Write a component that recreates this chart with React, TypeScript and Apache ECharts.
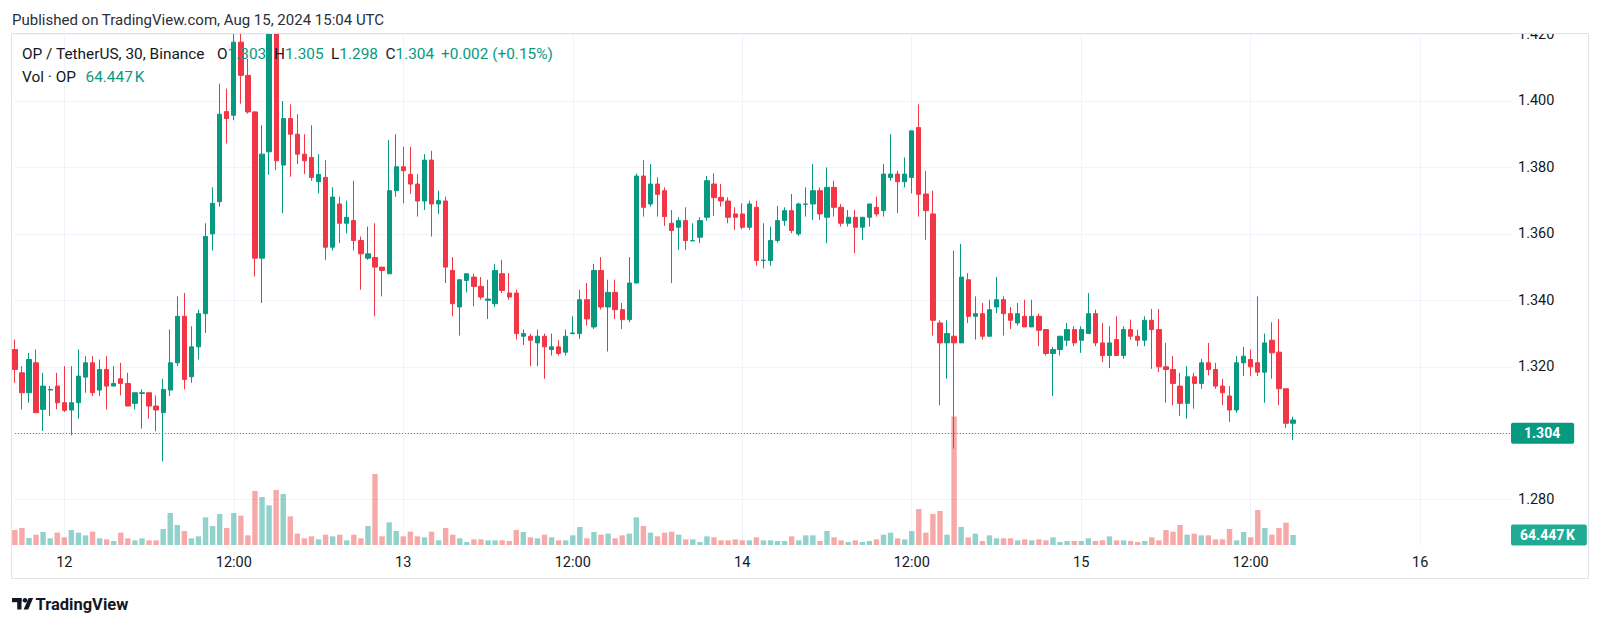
import React, { useEffect, useRef } from "react";
import * as echarts from "echarts";

// ---------- DATA (OP/USDT, 30m, Binance) ----------
const START_UTC = Date.UTC(2024, 7, 11, 20, 30); // first candle: Aug 11 20:30
const SLOT_MINUTES = 30;
const N_SLOTS = 213; // candles + empty space to the right

const OPEN = [
  1.3252, 1.3182, 1.3122, 1.3212, 1.3072, 1.3130, 1.3142, 1.3092, 1.3070, 1.3092,
  1.3169, 1.3212, 1.3130, 1.3192, 1.3142, 1.3164, 1.3150, 1.3090, 1.3120, 1.3122,
  1.3082, 1.3062, 1.3130, 1.3212, 1.3352, 1.3170, 1.3260, 1.3360, 1.3600, 1.3697,
  1.3968, 1.3957, 1.4177, 1.4077, 1.3967, 1.3527, 1.3847, 1.4240, 1.3807, 1.3947,
  1.3900, 1.3840, 1.3830, 1.3757, 1.3770, 1.3560, 1.3690, 1.3632, 1.3640, 1.3580,
  1.3527, 1.3529, 1.3500, 1.3480, 1.3730, 1.3802, 1.3779, 1.3750, 1.3699, 1.3822,
  1.3690, 1.3699, 1.3490, 1.3380, 1.3460, 1.3470, 1.3442, 1.3400, 1.3390, 1.3480,
  1.3422, 1.3422, 1.3292, 1.3292, 1.3272, 1.3292, 1.3252, 1.3260, 1.3244, 1.3300,
  1.3300, 1.3402, 1.3320, 1.3490, 1.3380, 1.3424, 1.3372, 1.3342, 1.3452, 1.3774,
  1.3690, 1.3750, 1.3730, 1.3632, 1.3620, 1.3640, 1.3579, 1.3590, 1.3650, 1.3750,
  1.3710, 1.3699, 1.3660, 1.3660, 1.3620, 1.3680, 1.3520, 1.3520, 1.3580, 1.3640,
  1.3670, 1.3600, 1.3689, 1.3690, 1.3730, 1.3650, 1.3740, 1.3680, 1.3632, 1.3650,
  1.3620, 1.3650, 1.3680, 1.3670, 1.3770, 1.3780, 1.3757, 1.3770, 1.3920, 1.3720,
  1.3660, 1.3332, 1.3272, 1.3292, 1.3272, 1.3462, 1.3352, 1.3360, 1.3292, 1.3380,
  1.3402, 1.3360, 1.3332, 1.3352, 1.3320, 1.3352, 1.3312, 1.3240, 1.3252, 1.3280,
  1.3312, 1.3280, 1.3300, 1.3360, 1.3272, 1.3234, 1.3282, 1.3234, 1.3312, 1.3292,
  1.3280, 1.3340, 1.3312, 1.3200, 1.3192, 1.3142, 1.3090, 1.3170, 1.3150, 1.3212,
  1.3192, 1.3142, 1.3112, 1.3070, 1.3212, 1.3222, 1.3212, 1.3184, 1.3280, 1.3244,
  1.3134, 1.3030,
];

const HIGH = [
  1.3282, 1.3202, 1.3242, 1.3252, 1.3182, 1.3142, 1.3182, 1.3202, 1.3202, 1.3252,
  1.3232, 1.3232, 1.3222, 1.3232, 1.3202, 1.3212, 1.3182, 1.3122, 1.3132, 1.3122,
  1.3114, 1.3164, 1.3312, 1.3412, 1.3422, 1.3322, 1.3372, 1.3632, 1.3740, 1.4052,
  1.4037, 1.4240, 1.4240, 1.4127, 1.3969, 1.3927, 1.4280, 1.4300, 1.4000, 1.3990,
  1.3960, 1.3900, 1.3927, 1.3840, 1.3822, 1.3740, 1.3712, 1.3700, 1.3760, 1.3592,
  1.3622, 1.3632, 1.3500, 1.3882, 1.3900, 1.3862, 1.3862, 1.3780, 1.3840, 1.3850,
  1.3730, 1.3712, 1.3530, 1.3462, 1.3480, 1.3480, 1.3470, 1.3462, 1.3510, 1.3522,
  1.3482, 1.3432, 1.3312, 1.3300, 1.3312, 1.3300, 1.3300, 1.3280, 1.3312, 1.3352,
  1.3432, 1.3452, 1.3510, 1.3530, 1.3462, 1.3462, 1.3392, 1.3530, 1.3782, 1.3822,
  1.3810, 1.3770, 1.3740, 1.3672, 1.3650, 1.3680, 1.3632, 1.3650, 1.3774, 1.3782,
  1.3750, 1.3710, 1.3680, 1.3692, 1.3700, 1.3700, 1.3632, 1.3622, 1.3684, 1.3680,
  1.3720, 1.3694, 1.3740, 1.3810, 1.3740, 1.3800, 1.3760, 1.3690, 1.3672, 1.3672,
  1.3650, 1.3690, 1.3712, 1.3810, 1.3900, 1.3790, 1.3830, 1.3910, 1.3990, 1.3790,
  1.3730, 1.3340, 1.3340, 1.3550, 1.3570, 1.3482, 1.3412, 1.3392, 1.3402, 1.3470,
  1.3412, 1.3380, 1.3392, 1.3402, 1.3402, 1.3360, 1.3312, 1.3260, 1.3292, 1.3332,
  1.3322, 1.3322, 1.3422, 1.3372, 1.3332, 1.3322, 1.3352, 1.3322, 1.3342, 1.3312,
  1.3352, 1.3374, 1.3374, 1.3272, 1.3232, 1.3182, 1.3202, 1.3182, 1.3224, 1.3272,
  1.3212, 1.3164, 1.3142, 1.3232, 1.3260, 1.3252, 1.3412, 1.3300, 1.3334, 1.3344,
  1.3134, 1.3050,
];

const LOW = [
  1.3152, 1.3072, 1.3092, 1.3062, 1.3007, 1.3052, 1.3072, 1.3064, 1.2994, 1.3044,
  1.3122, 1.3112, 1.3112, 1.3072, 1.3142, 1.3114, 1.3082, 1.3072, 1.3014, 1.3044,
  1.3006, 1.2915, 1.3112, 1.3202, 1.3132, 1.3152, 1.3222, 1.3302, 1.3550, 1.3682,
  1.3872, 1.3942, 1.3992, 1.3962, 1.3472, 1.3392, 1.3778, 1.3792, 1.3662, 1.3772,
  1.3810, 1.3780, 1.3760, 1.3722, 1.3522, 1.3550, 1.3572, 1.3602, 1.3550, 1.3432,
  1.3522, 1.3352, 1.3412, 1.3480, 1.3712, 1.3692, 1.3720, 1.3652, 1.3672, 1.3592,
  1.3660, 1.3452, 1.3352, 1.3294, 1.3424, 1.3382, 1.3402, 1.3344, 1.3380, 1.3422,
  1.3402, 1.3282, 1.3266, 1.3202, 1.3202, 1.3164, 1.3234, 1.3234, 1.3234, 1.3298,
  1.3284, 1.3324, 1.3314, 1.3372, 1.3246, 1.3344, 1.3314, 1.3334, 1.3452, 1.3652,
  1.3682, 1.3652, 1.3624, 1.3452, 1.3552, 1.3552, 1.3578, 1.3572, 1.3640, 1.3654,
  1.3682, 1.3632, 1.3612, 1.3614, 1.3612, 1.3504, 1.3496, 1.3504, 1.3574, 1.3624,
  1.3602, 1.3594, 1.3652, 1.3642, 1.3642, 1.3572, 1.3652, 1.3622, 1.3622, 1.3542,
  1.3582, 1.3622, 1.3652, 1.3652, 1.3760, 1.3662, 1.3740, 1.3722, 1.3652, 1.3582,
  1.3294, 1.3084, 1.3164, 1.2954, 1.3272, 1.3332, 1.3282, 1.3282, 1.3292, 1.3362,
  1.3294, 1.3314, 1.3324, 1.3320, 1.3320, 1.3262, 1.3234, 1.3112, 1.3234, 1.3262,
  1.3262, 1.3242, 1.3300, 1.3262, 1.3214, 1.3196, 1.3234, 1.3224, 1.3282, 1.3262,
  1.3262, 1.3194, 1.3184, 1.3092, 1.3084, 1.3052, 1.3044, 1.3074, 1.3134, 1.3174,
  1.3134, 1.3084, 1.3034, 1.3062, 1.3172, 1.3172, 1.3172, 1.3092, 1.3164, 1.3084,
  1.3016, 1.2980,
];

const CLOSE = [
  1.3192, 1.3122, 1.3222, 1.3062, 1.3142, 1.3132, 1.3092, 1.3069, 1.3092, 1.3172,
  1.3212, 1.3122, 1.3192, 1.3142, 1.3150, 1.3150, 1.3082, 1.3122, 1.3122, 1.3082,
  1.3070, 1.3132, 1.3212, 1.3352, 1.3162, 1.3260, 1.3360, 1.3592, 1.3692, 1.3960,
  1.3947, 1.4177, 1.4077, 1.3967, 1.3527, 1.3840, 1.4240, 1.3820, 1.3947, 1.3900,
  1.3840, 1.3820, 1.3770, 1.3779, 1.3560, 1.3711, 1.3632, 1.3650, 1.3580, 1.3540,
  1.3540, 1.3500, 1.3490, 1.3730, 1.3802, 1.3790, 1.3750, 1.3699, 1.3822, 1.3690,
  1.3700, 1.3500, 1.3390, 1.3462, 1.3480, 1.3442, 1.3410, 1.3404, 1.3490, 1.3430,
  1.3410, 1.3300, 1.3300, 1.3280, 1.3292, 1.3260, 1.3260, 1.3240, 1.3292, 1.3302,
  1.3402, 1.3344, 1.3490, 1.3380, 1.3424, 1.3372, 1.3342, 1.3452, 1.3774, 1.3680,
  1.3750, 1.3719, 1.3652, 1.3610, 1.3640, 1.3580, 1.3580, 1.3640, 1.3760, 1.3709,
  1.3699, 1.3650, 1.3650, 1.3620, 1.3690, 1.3520, 1.3521, 1.3580, 1.3640, 1.3670,
  1.3610, 1.3690, 1.3690, 1.3730, 1.3660, 1.3740, 1.3680, 1.3632, 1.3650, 1.3620,
  1.3650, 1.3690, 1.3660, 1.3780, 1.3780, 1.3757, 1.3780, 1.3910, 1.3719, 1.3670,
  1.3340, 1.3272, 1.3300, 1.3272, 1.3470, 1.3352, 1.3360, 1.3292, 1.3372, 1.3402,
  1.3360, 1.3340, 1.3360, 1.3320, 1.3352, 1.3310, 1.3240, 1.3252, 1.3292, 1.3312,
  1.3272, 1.3312, 1.3360, 1.3272, 1.3234, 1.3272, 1.3234, 1.3312, 1.3292, 1.3280,
  1.3340, 1.3312, 1.3200, 1.3192, 1.3150, 1.3090, 1.3170, 1.3150, 1.3212, 1.3192,
  1.3142, 1.3122, 1.3070, 1.3212, 1.3232, 1.3200, 1.3184, 1.3272, 1.3242, 1.3134,
  1.3030, 1.3040,
];

// volume, thousands of OP
const VOLUME_K = [
  96.6, 109.5, 45.1, 66.5, 83.7, 42.9, 79.4, 49.4, 96.6, 79.4,
  62.3, 85.9, 42.9, 36.5, 25.8, 79.4, 42.9, 30.1, 42.9, 30.1,
  30.1, 103, 206, 128.8, 90.2, 42.9, 55.8, 178.2, 122.4, 199.6,
  109.5, 206, 188.9, 62.3, 347.8, 309.1, 255.5, 354.2, 328.4, 184.6,
  73, 42.9, 55.8, 36.5, 66.5, 55.8, 66.5, 30.1, 66.5, 42.9,
  122.4, 457.2, 55.8, 146, 90.2, 55.8, 85.9, 55.8, 49.4, 85.9,
  30.1, 109.5, 66.5, 42.9, 19.3, 36.5, 36.5, 30.1, 30.1, 30.1,
  25.8, 96.6, 83.7, 49.4, 42.9, 66.5, 49.4, 30.1, 30.1, 62.3,
  115.9, 42.9, 83.7, 66.5, 73, 42.9, 62.3, 73, 178.2, 122.4,
  79.4, 55.8, 79.4, 85.9, 66.5, 36.5, 36.5, 19.3, 55.8, 49.4,
  30.1, 30.1, 36.5, 30.1, 30.1, 49.4, 30.1, 30.1, 25.8, 25.8,
  55.8, 30.1, 62.3, 62.3, 25.8, 90.2, 49.4, 30.1, 19.3, 30.1,
  19.3, 25.8, 36.5, 66.5, 79.4, 42.9, 36.5, 90.2, 231.8, 79.4,
  199.6, 219, 66.5, 827.5, 115.9, 49.4, 73, 25.8, 62.3, 42.9,
  42.9, 42.9, 30.1, 36.5, 30.1, 36.5, 30.1, 49.4, 19.3, 25.8,
  25.8, 25.8, 42.9, 25.8, 30.1, 55.8, 30.1, 30.1, 25.8, 19.3,
  25.8, 49.4, 30.1, 96.6, 85.9, 128.8, 66.5, 73, 62.3, 62.3,
  36.5, 36.5, 103, 30.1, 83.7, 49.4, 225.4, 109.5, 66.5, 109.5,
  143.8, 64.447,
];

const PRICE_TICKS_MIN = 1.26;
const PRICE_TICKS_MAX = 1.42;
const PRICE_TICK_STEP = 0.02;

const TITLE = "OP / TetherUS, 30, Binance";
const PUBLISHED = "Published on TradingView.com, Aug 15, 2024 15:04 UTC";
const CHANGE_TEXT = "+0.002 (+0.15%)";
const VOL_TITLE = "Vol · OP";

// ---------- STYLE ----------
const UP = "#089981";
const DOWN = "#F23645";
const VOL_UP = "rgba(38,166,154,0.5)";
const VOL_DOWN = "rgba(239,83,80,0.5)";
const TEXT = "#131722";
const GRID = "#f0f3fa";
const FONT = "Roboto, 'Noto Sans', sans-serif";
const HEAD_FONT = `15.4px ${FONT}`;

function pad2(n: number) {
  return String(n).padStart(2, "0");
}

function buildCategories(): string[] {
  const out: string[] = [];
  for (let i = 0; i < N_SLOTS; i++) {
    const t = new Date(START_UTC + i * SLOT_MINUTES * 60000);
    out.push(`${t.getUTCDate()} ${pad2(t.getUTCHours())}:${pad2(t.getUTCMinutes())}`);
  }
  return out;
}

function isMajor(v: string) {
  return v.endsWith(" 00:00") || v.endsWith(" 12:00");
}

function timeLabel(v: string) {
  const [d, hm] = v.split(" ");
  if (hm === "00:00") return d;
  if (hm === "12:00") return "12:00";
  return "";
}

export default function App() {
  const ref = useRef<HTMLDivElement>(null);

  useEffect(() => {
    if (!ref.current) return;
    const chart = echarts.init(ref.current, null, { renderer: "svg" });
    const cats = buildCategories();
    const last = CLOSE.length - 1;
    const lastClose = CLOSE[last];
    const lastVol = VOLUME_K[VOLUME_K.length - 1];
    const volText = `${lastVol.toFixed(3)}\u202FK`;

    const candleData = OPEN.map((o, i) => [o, CLOSE[i], LOW[i], HIGH[i]]);
    const volData = VOLUME_K.map((v, i) => ({
      value: v,
      itemStyle: { color: CLOSE[i] >= OPEN[i] ? VOL_UP : VOL_DOWN },
    }));

    const nTicks = Math.round((PRICE_TICKS_MAX - PRICE_TICKS_MIN) / PRICE_TICK_STEP) + 1;
    const splitColors = ["rgba(0,0,0,0)"];
    for (let i = 1; i < nTicks + 2; i++) splitColors.push(GRID);

    const gridLeft = 14.87;
    const gridRight = 88;

    const option: any = {
      animation: false,
      backgroundColor: "#ffffff",
      textStyle: { fontFamily: FONT },
      grid: [
        { left: gridLeft, right: gridRight, top: 34.5, bottom: 58.8 },
        { left: gridLeft, right: gridRight, top: 33, bottom: 80 },
      ],
      xAxis: [
        {
          type: "category",
          gridIndex: 0,
          data: cats,
          boundaryGap: false,
          show: false,
        },
        {
          type: "category",
          gridIndex: 1,
          data: cats,
          boundaryGap: false,
          axisLine: { show: false },
          axisTick: { show: false },
          axisLabel: {
            interval: (_i: number, v: string) => isMajor(v),
            formatter: (v: string) => timeLabel(v),
            color: TEXT,
            fontSize: 14.5,
            fontFamily: FONT,
            margin: 10,
          },
          splitLine: {
            show: true,
            interval: (_i: number, v: string) => isMajor(v),
            lineStyle: { color: GRID, width: 1 },
          },
        },
      ],
      yAxis: [
        {
          type: "value",
          gridIndex: 0,
          position: "right",
          min: PRICE_TICKS_MIN,
          max: PRICE_TICKS_MAX,
          interval: PRICE_TICK_STEP,
          axisLine: { show: false },
          axisTick: { show: false },
          axisLabel: {
            color: TEXT,
            fontSize: 14.5,
            fontFamily: FONT,
            margin: 6,
            formatter: (v: number) => (v < PRICE_TICKS_MIN + 0.001 ? "" : v.toFixed(3)),
          },
          splitLine: { show: true, lineStyle: { color: splitColors, width: 1 } },
        },
        {
          type: "value",
          gridIndex: 1,
          min: 0,
          max: 3297,
          show: false,
          splitLine: { show: false },
        },
      ],
      series: [
        {
          type: "bar",
          name: "Vol",
          xAxisIndex: 1,
          yAxisIndex: 1,
          data: volData,
          barWidth: 5.4,
          z: 1,
          markLine: {
            silent: true,
            symbol: "none",
            animation: false,
            lineStyle: { color: "rgba(0,0,0,0)", width: 1, type: "solid" },
            label: {
              show: true,
              position: "end",
              distance: -1,
              formatter: () => volText,
              color: "#ffffff",
              backgroundColor: "#22ab94",
              fontSize: 14,
              fontWeight: "bold",
              fontFamily: FONT,
              padding: [4, 12, 3, 9],
              borderRadius: 2,
            },
            data: [{ yAxis: lastVol }],
          },
        },
        {
          type: "candlestick",
          name: "OP/USDT",
          xAxisIndex: 0,
          yAxisIndex: 0,
          data: candleData,
          barWidth: 4.8,
          clip: false,
          z: 3,
          itemStyle: {
            color: UP,
            color0: DOWN,
            borderColor: UP,
            borderColor0: DOWN,
            borderWidth: 1,
          },
          markLine: {
            silent: true,
            symbol: "none",
            animation: false,
            lineStyle: { color: UP, type: [1, 2], width: 1 },
            label: {
              show: true,
              position: "end",
              distance: -1,
              formatter: () => lastClose.toFixed(3),
              color: "#ffffff",
              backgroundColor: UP,
              fontSize: 14,
              fontWeight: "bold",
              fontFamily: FONT,
              padding: [4, 14, 3, 13],
              borderRadius: 2,
            },
            data: [{ yAxis: lastClose }],
          },
        },
      ],
      graphic: [
        {
          type: "rect",
          silent: true,
          z: 100,
          shape: { x: 0, y: 0, width: 1600, height: 33 },
          style: { fill: "#ffffff" },
        },
        {
          type: "rect",
          silent: true,
          z: 101,
          shape: { x: 11.5, y: 33.5, width: 1577, height: 545 },
          style: { fill: "none", stroke: "#e0e3eb", lineWidth: 1 },
        },
        {
          type: "text",
          z: 102,
          x: 12,
          y: 19.5,
          style: { text: PUBLISHED, fill: "#2a2e39", font: `15px ${FONT}`, verticalAlign: "middle" },
        },
        {
          type: "text",
          z: 102,
          x: 22,
          y: 54,
          style: { text: TITLE, fill: TEXT, font: HEAD_FONT, verticalAlign: "middle" },
        },
        ...[
          { k: "O", v: OPEN[last], x: 217 },
          { k: "H", v: HIGH[last], x: 274 },
          { k: "L", v: LOW[last], x: 331 },
          { k: "C", v: CLOSE[last], x: 385.5 },
        ].map((it) => ({
          type: "text",
          z: 102,
          x: it.x,
          y: 54,
          style: {
            text: `{k|${it.k}}{v|${it.v.toFixed(3)}}`,
            font: HEAD_FONT,
            verticalAlign: "middle",
            rich: {
              k: { fill: TEXT, color: TEXT, font: HEAD_FONT },
              v: { fill: UP, color: UP, font: HEAD_FONT },
            },
          },
        })),
        {
          type: "text",
          z: 102,
          x: 441,
          y: 54,
          style: { text: CHANGE_TEXT, fill: UP, font: HEAD_FONT, verticalAlign: "middle" },
        },
        {
          type: "text",
          z: 102,
          x: 22,
          y: 77,
          style: { text: VOL_TITLE, fill: TEXT, font: HEAD_FONT, verticalAlign: "middle" },
        },
        {
          type: "text",
          z: 102,
          x: 85.5,
          y: 77,
          style: { text: volText, fill: UP, font: HEAD_FONT, verticalAlign: "middle" },
        },
        // TradingView logo (simplified)
        {
          type: "group",
          z: 102,
          silent: true,
          children: [
            { type: "rect", shape: { x: 12, y: 598, width: 9.5, height: 4.2 }, style: { fill: TEXT } },
            { type: "rect", shape: { x: 17.2, y: 598, width: 4.3, height: 11.5 }, style: { fill: TEXT } },
            { type: "circle", shape: { cx: 25, cy: 600.3, r: 2.3 }, style: { fill: TEXT } },
            {
              type: "polygon",
              shape: { points: [[28.6, 598], [33.2, 598], [28.2, 609.5], [23.6, 609.5]] },
              style: { fill: TEXT },
            },
          ],
        },
        {
          type: "text",
          z: 102,
          x: 35.5,
          y: 604,
          style: {
            text: "TradingView",
            fill: TEXT,
            font: `bold 16.5px ${FONT}`,
            verticalAlign: "middle",
          },
        },
      ],
    };

    chart.setOption(option);
    return () => chart.dispose();
  }, []);

  return (
    <div
      ref={ref}
      style={{ position: "fixed", left: 0, top: 0, width: 1600, height: 625, background: "#ffffff" }}
    />
  );
}
